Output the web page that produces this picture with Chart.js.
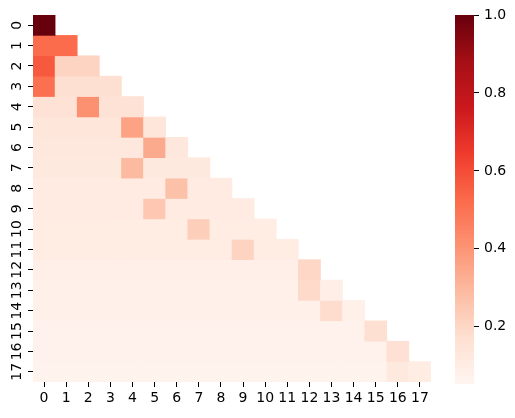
<!DOCTYPE html>
<html>
<head>
<meta charset="utf-8">
<script src="https://cdn.jsdelivr.net/npm/chart.js@4.4.0/dist/chart.umd.min.js"></script>
<style>
  html, body { margin: 0; padding: 0; background: #fff; }
  #wrap { position: relative; width: 515px; height: 418px; }
  canvas { position: absolute; left: 0; top: 0; }
</style>
</head>
<body>
<div id="wrap">
  <canvas id="heat" width="515" height="418"></canvas>
  <canvas id="cbar" width="515" height="418"></canvas>
</div>
<script>
// row / column labels of the triangular matrix
const rowLabels = ['0','1','2','3','4','5','6','7','8','9','10','11','12','13','14','15','16','17'];
const colLabels = ['0','1','2','3','4','5','6','7','8','9','10','11','12','13','14','15','16','17'];

// lower triangle values, row by row
const cells = [
  [1.00],
  [0.52, 0.52],
  [0.57, 0.21, 0.21],
  [0.51, 0.17, 0.17, 0.17],
  [0.16, 0.16, 0.41, 0.16, 0.16],
  [0.14, 0.14, 0.14, 0.14, 0.36, 0.14],
  [0.13, 0.13, 0.13, 0.13, 0.13, 0.34, 0.13],
  [0.12, 0.12, 0.12, 0.12, 0.29, 0.12, 0.12, 0.12],
  [0.11, 0.11, 0.11, 0.11, 0.11, 0.11, 0.27, 0.11, 0.11],
  [0.11, 0.11, 0.11, 0.11, 0.11, 0.25, 0.11, 0.11, 0.11, 0.11],
  [0.10, 0.10, 0.10, 0.10, 0.10, 0.10, 0.10, 0.23, 0.10, 0.10, 0.10],
  [0.10, 0.10, 0.10, 0.10, 0.10, 0.10, 0.10, 0.10, 0.10, 0.21, 0.10, 0.10],
  [0.085, 0.085, 0.085, 0.085, 0.085, 0.085, 0.085, 0.085, 0.085, 0.085, 0.085, 0.085, 0.20],
  [0.08, 0.08, 0.08, 0.08, 0.08, 0.08, 0.08, 0.08, 0.08, 0.08, 0.08, 0.08, 0.19, 0.09],
  [0.075, 0.075, 0.075, 0.075, 0.075, 0.075, 0.075, 0.075, 0.075, 0.075, 0.075, 0.075, 0.075, 0.18, 0.08],
  [0.07, 0.07, 0.07, 0.07, 0.07, 0.07, 0.07, 0.07, 0.07, 0.07, 0.07, 0.07, 0.07, 0.07, 0.07, 0.17],
  [0.07, 0.07, 0.07, 0.07, 0.07, 0.07, 0.07, 0.07, 0.07, 0.07, 0.07, 0.07, 0.07, 0.07, 0.07, 0.07, 0.165],
  [0.065, 0.065, 0.065, 0.065, 0.065, 0.065, 0.065, 0.065, 0.065, 0.065, 0.065, 0.065, 0.065, 0.065, 0.065, 0.065, 0.12, 0.10],
];

const colorbarTicks = [0.2, 0.4, 0.6, 0.8, 1.0];
const vmin = 0.053;
const vmax = 1.0;

// matplotlib "Reds"
const redsStops = ['#fff5f0', '#fee0d2', '#fcbba1', '#fc9272', '#fb6a4a', '#ef3b2c', '#cb181d', '#a50f15', '#67000d'];

const FONT = { family: 'DejaVu Sans', size: 14 };
const TEXT = '#000';

const hexToRgb = h => [1, 3, 5].map(i => parseInt(h.slice(i, i + 2), 16));
const redsRgb = redsStops.map(hexToRgb);

const reds = v => {
  let t = (v - vmin) / (vmax - vmin);
  t = Math.min(1, Math.max(0, t));
  const p = t * (redsRgb.length - 1);
  const i = Math.min(Math.floor(p), redsRgb.length - 2);
  const f = p - i;
  const c = redsRgb[i].map((a, k) => Math.round(a + (redsRgb[i + 1][k] - a) * f));
  return 'rgb(' + c.join(',') + ')';
};

const tickGrid = {
  drawOnChartArea: false,
  drawTicks: true,
  tickLength: 5,
  tickWidth: 1,
  color: '#000',
};

// one floating-bar dataset per row
const datasets = cells.map((row, r) => ({
  label: rowLabels[r],
  data: colLabels.map((_, c) => (c < row.length ? [r, r + 1] : null)),
  backgroundColor: colLabels.map((_, c) => (c < row.length ? reds(row[c]) : 'rgba(0,0,0,0)')),
  grouped: false,
  barPercentage: 1,
  categoryPercentage: 1,
  borderWidth: 0,
}));

new Chart(document.getElementById('heat'), {
  type: 'bar',
  data: { labels: colLabels, datasets: datasets },
  options: {
    responsive: false,
    animation: false,
    layout: { padding: { top: 15, right: 84, left: 0, bottom: 0 } },
    plugins: { legend: { display: false }, tooltip: { enabled: false } },
    scales: {
      x: {
        type: 'category',
        offset: true,
        grid: Object.assign({ offset: false }, tickGrid),
        border: { display: false },
        ticks: { color: TEXT, font: FONT, maxRotation: 0, minRotation: 0, autoSkip: false, padding: 3 },
        afterFit: s => { s.height = 36; },
      },
      y: {
        type: 'linear',
        reverse: true,
        min: 0,
        max: 18,
        afterBuildTicks: s => { s.ticks = rowLabels.map((_, i) => ({ value: i + 0.5 })); },
        grid: tickGrid,
        border: { display: false },
        ticks: {
          callback: v => rowLabels[Math.floor(v)],
          minRotation: 90,
          maxRotation: 90,
          crossAlign: 'center',
          padding: 2,
          color: TEXT,
          font: FONT,
        },
        afterFit: s => { s.width = 33; },
      },
    },
  },
});

// colour bar
const barGradient = chart => {
  const area = chart.chartArea;
  if (!area) return redsStops[0];
  const g = chart.ctx.createLinearGradient(0, area.bottom, 0, area.top);
  redsStops.forEach((c, i) => g.addColorStop(i / (redsStops.length - 1), c));
  return g;
};

new Chart(document.getElementById('cbar'), {
  type: 'bar',
  data: {
    labels: [''],
    datasets: [{
      data: [[vmin, vmax]],
      backgroundColor: ctx => barGradient(ctx.chart),
      barPercentage: 1,
      categoryPercentage: 1,
      borderWidth: 0,
    }],
  },
  options: {
    responsive: false,
    animation: false,
    layout: { padding: { left: 455, top: 15, bottom: 34, right: 0 } },
    plugins: { legend: { display: false }, tooltip: { enabled: false } },
    scales: {
      x: { display: false },
      y: {
        position: 'right',
        min: vmin,
        max: vmax,
        afterBuildTicks: s => { s.ticks = colorbarTicks.map(v => ({ value: v })); },
        grid: tickGrid,
        border: { display: false },
        ticks: { callback: v => v.toFixed(1), padding: 5, color: TEXT, font: FONT },
        afterFit: s => { s.width = 41; },
      },
    },
  },
});
</script>
</body>
</html>
